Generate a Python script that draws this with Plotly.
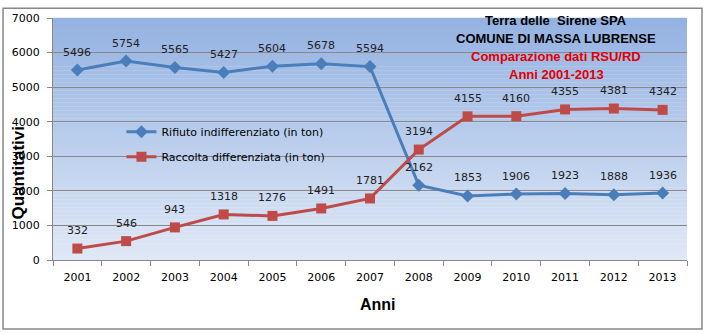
import plotly.graph_objects as go

years = ["2001", "2002", "2003", "2004", "2005", "2006", "2007",
         "2008", "2009", "2010", "2011", "2012", "2013"]
indiff = [5496, 5754, 5565, 5427, 5604, 5678, 5594, 2162, 1853, 1906, 1923, 1888, 1936]
diff = [332, 546, 943, 1318, 1276, 1491, 1781, 3194, 4155, 4160, 4355, 4381, 4342]
name_indiff = "Rifiuto indifferenziato (in ton)"
name_diff = "Raccolta differenziata (in ton)"
y_ticks = [0, 1000, 2000, 3000, 4000, 5000, 6000, 7000]

BLUE = "#4A7EBB"
RED = "#BE4B48"
FONT = "DejaVu Sans"
TFONT = "Liberation Sans"

fig = go.Figure()
fig.add_trace(go.Scatter(x=years, y=indiff, name=name_indiff, mode="lines+markers",
                         line=dict(color=BLUE, width=3),
                         marker=dict(symbol="diamond", size=10, color=BLUE),
                         legendgroup="a"))
fig.add_trace(go.Scatter(x=years, y=diff, name=name_diff, mode="lines+markers",
                         line=dict(color=RED, width=3),
                         marker=dict(symbol="square", size=10, color=RED),
                         legendgroup="b"))

ann = []
for series in (indiff, diff):
    for i, yv in enumerate(series):
        ann.append(dict(x=i, y=yv, xref="x", yref="y", text=str(yv), showarrow=False, yshift=18,
                        font=dict(family=FONT, size=11, color="#222")))


def pann(px, py, text, size, color, family=TFONT, angle=0):
    return dict(xref="paper", yref="paper", x=(px - 52.5) / 634.5, y=(260 - py) / 247.5,
                xanchor="center", yanchor="middle", text=text, textangle=angle,
                showarrow=False, font=dict(family=family, size=size, color=color))


ann += [
    pann(556, 15, "<b>Terra delle  Sirene SPA</b>", 13, "black"),
    pann(556, 33, "<b>COMUNE DI MASSA LUBRENSE</b>", 13, "black"),
    pann(556, 52, "<b>Comparazione dati RSU/RD</b>", 13, "#E00000"),
    pann(556, 70, "<b>Anni 2001-2013</b>", 13, "#E00000"),
    pann(18, 171, "<b>Quantitativi</b>", 17, "black", angle=-90),
    pann(378, 305, "<b>Anni</b>", 16, "black"),
]

# gradient background
shapes = []
n = 60
top = (148, 178, 226)
bot = (223, 232, 246)
for i in range(n):
    t = i / (n - 1)
    c = tuple(int(round(top[k] + (bot[k] - top[k]) * t)) for k in range(3))
    shapes.append(dict(type="rect", xref="x domain", yref="y domain",
                       x0=0, x1=1, y0=1 - (i + 1) / n, y1=1 - i / n + 0.001,
                       fillcolor="rgb(%d,%d,%d)" % c, line=dict(width=0), layer="below"))
# outer border
shapes.append(dict(type="rect", xref="paper", yref="paper",
                   x0=(2.5 - 52.5) / 634.5, x1=(702 - 52.5) / 634.5,
                   y0=(260 - 330.5) / 247.5, y1=(260 - 2.5) / 247.5,
                   line=dict(color="#888888", width=1.5), fillcolor="rgba(0,0,0,0)", layer="below"))

fig.update_layout(
    width=709, height=334,
    margin=dict(l=52.5, r=22, t=12.5, b=74),
    paper_bgcolor="white", plot_bgcolor="rgba(0,0,0,0)",
    font=dict(family=FONT, size=11, color="black"),
    annotations=ann, shapes=shapes,
    showlegend=True,
    legend=dict(x=(121 - 52.5) / 634.5, y=(260 - 114) / 247.5, xanchor="left", yanchor="top",
                bgcolor="rgba(0,0,0,0)", font=dict(family=FONT, size=11, color="black"),
                itemwidth=30, tracegroupgap=6),
)
fig.update_xaxes(type="category", range=[-0.5, len(years) - 0.5], showgrid=False, showline=True,
                 linecolor="#888888", linewidth=1,
                 ticks="outside", tickson="boundaries", ticklen=5, tickcolor="#888888",
                 ticklabelstandoff=7,
                 tickangle=0, tickfont=dict(family=FONT, size=11, color="black"), mirror=False)
fig.update_yaxes(range=[0, 7000], tickvals=y_ticks, showgrid=True, gridcolor="#888888", gridwidth=1,
                 showline=True, linecolor="#888888", linewidth=1, ticks="outside", ticklen=5,
                 tickcolor="#888888", zeroline=False, ticklabelstandoff=5,
                 tickfont=dict(family=FONT, size=11, color="black"))

fig.write_html("out.html")
